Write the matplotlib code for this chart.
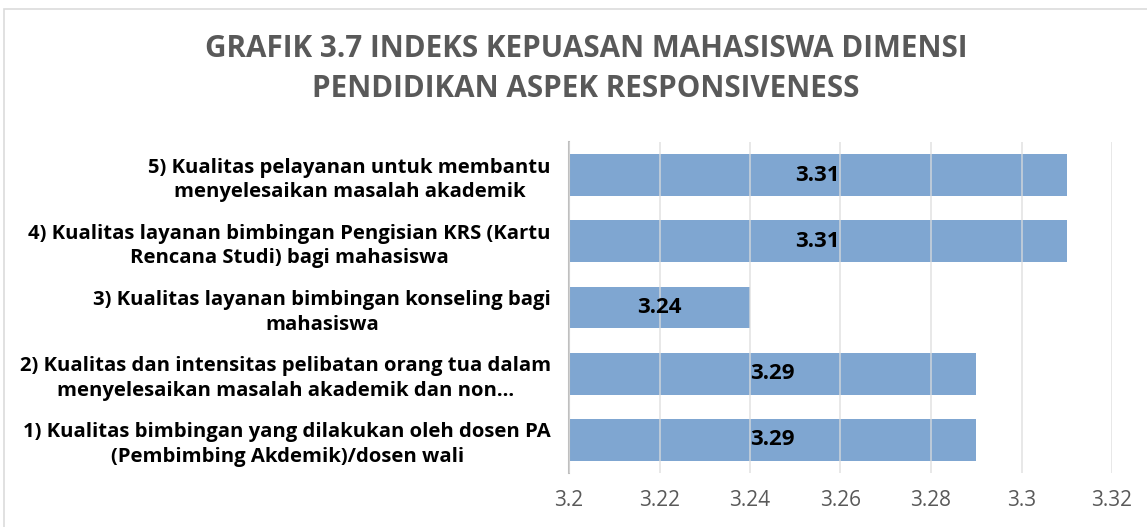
"""Grafik 3.7: indeks kepuasan mahasiswa, dimensi pendidikan aspek responsiveness."""
import matplotlib

matplotlib.use("Agg")
import matplotlib.pyplot as plt  # noqa: E402
from matplotlib.patches import Rectangle  # noqa: E402

# data, bottom bar first (matplotlib barh draws from y=0 upward)
labels = [
    "1) Kualitas bimbingan yang dilakukan oleh dosen PA\n(Pembimbing Akdemik)/dosen wali",
    "2) Kualitas dan intensitas pelibatan orang tua dalam\nmenyelesaikan masalah akademik dan non…",
    "3) Kualitas layanan bimbingan konseling bagi\nmahasiswa",
    "4) Kualitas layanan bimbingan Pengisian KRS (Kartu\nRencana Studi) bagi mahasiswa",
    "5) Kualitas pelayanan untuk membantu\nmenyelesaikan masalah akademik",
]
values = [3.29, 3.29, 3.24, 3.31, 3.31]
value_text = ["3.29", "3.29", "3.24", "3.31", "3.31"]
x_ticks = [3.2, 3.22, 3.24, 3.26, 3.28, 3.3, 3.32]
x_tick_text = ["3.2", "3.22", "3.24", "3.26", "3.28", "3.3", "3.32"]
title = "GRAFIK 3.7 INDEKS KEPUASAN MAHASISWA DIMENSI\nPENDIDIKAN ASPEK RESPONSIVENESS"

BAR = "#7fa6d1"
GRID = "#dcdcdc"
TEXT_GRAY = "#595959"
FONT = "Open Sans"
X0 = 3.2

W, H = 1147, 527
fig = plt.figure(figsize=(W / 100, H / 100), dpi=100)
fig.patches.append(
    Rectangle((4 / W, -0.05), 1.2, 1 - 9 / H + 0.05, transform=fig.transFigure,
              fill=False, edgecolor=GRID, lw=1.2)
)

ax = fig.add_axes([569 / W, 1 - 473 / H, (1112 - 569) / W, (473 - 142) / H])
ypos = list(range(len(values)))
ax.barh(ypos, [v - X0 for v in values], left=X0, height=0.63, color=BAR, zorder=2)
for y, v, t in zip(ypos, values, value_text):
    ax.text((X0 + v) / 2, y, t, ha="center", va="center", fontsize=16,
            fontweight="bold", family=FONT, color="black", zorder=4)

ax.set_xlim(X0, 3.32)
ax.set_ylim(-0.5, 4.5)
ax.set_xticks(x_ticks)
ax.set_xticklabels(x_tick_text, family=FONT, fontsize=15, color=TEXT_GRAY)
ax.set_yticks(ypos)
ax.set_yticklabels(labels, family=FONT, fontsize=14.6, fontweight="bold",
                   color="black", multialignment="center", linespacing=1.3)
ax.tick_params(axis="x", length=0, pad=12)
ax.tick_params(axis="y", length=0, pad=13)
ax.xaxis.grid(True, color=GRID, lw=1.1, alpha=0.85, zorder=3)
ax.set_axisbelow(False)
for side in ("top", "right", "bottom"):
    ax.spines[side].set_visible(False)
ax.spines["left"].set_color("#bfbfbf")
ax.spines["left"].set_linewidth(1.5)

fig.text(586 / W, 1 - 69 / H, title, ha="center", va="center", family=FONT,
         fontsize=21.3, fontweight="bold", color=TEXT_GRAY, linespacing=1.4)

fig.savefig("out.png", dpi=100)
